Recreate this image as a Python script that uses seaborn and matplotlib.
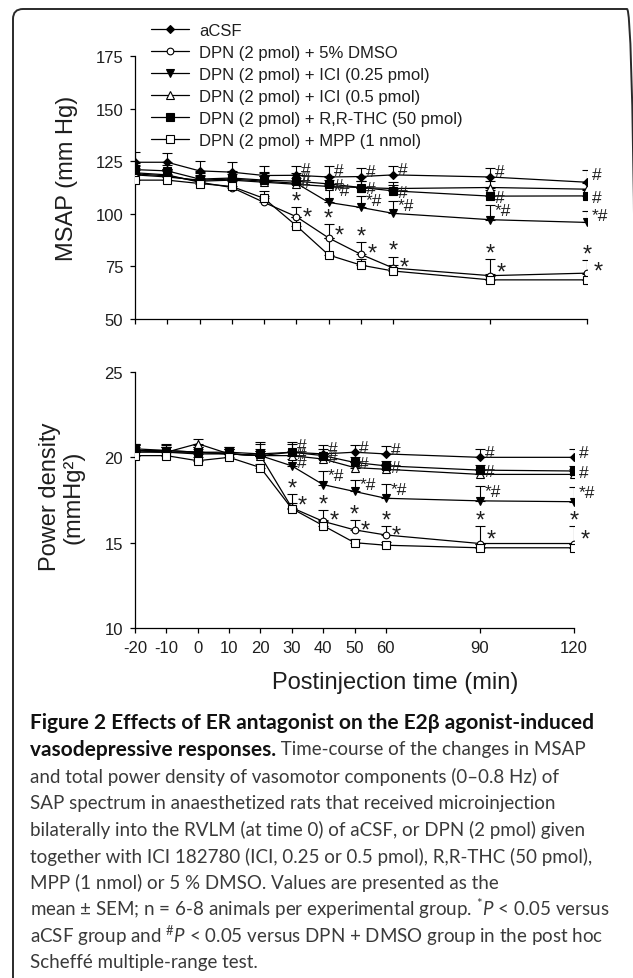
import numpy as np
import pandas as pd
import matplotlib
matplotlib.use('Agg')
import matplotlib.pyplot as plt
from matplotlib.patches import FancyBboxPatch
from matplotlib.transforms import IdentityTransform
import seaborn as sns

"""
0. Data read off the figure (means, upward SEM bars, significance marks).
"""
time_min = [-20, -10, 0, 10, 20, 30, 40, 50, 60, 90, 120]
xtick_labels = ['-20', '-10', '0', '10', '20', '30', '40', '50', '60', '90', '120']
msap_yticks = [50, 75, 100, 125, 150, 175]
pd_yticks = [10, 15, 20, 25]

groups = ['aCSF',
          'DPN (2 pmol) + 5% DMSO',
          'DPN (2 pmol) + ICI (0.25 pmol)',
          'DPN (2 pmol) + ICI (0.5 pmol)',
          'DPN (2 pmol) + R,R-THC (50 pmol)',
          'DPN (2 pmol) + MPP (1 nmol)']

# MSAP (mm Hg)
msap_acsf = [124.5, 124.5, 120.4, 119.8, 118.2, 118.3, 117.5, 117.7, 118.5, 117.5, 115.0]
msap_dmso = [119.5, 118.5, 115.0, 112.5, 105.4, 98.6, 88.5, 80.7, 74.2, 70.6, 71.8]
msap_ici25 = [118.5, 117.5, 116.0, 116.5, 115.5, 114.5, 105.4, 103.0, 100.2, 97.2, 95.9]
msap_ici05 = [119.0, 118.0, 115.5, 116.0, 115.0, 114.0, 113.0, 112.5, 112.0, 112.5, 111.7]
msap_rthc = [121.0, 120.4, 116.5, 117.0, 116.0, 115.5, 114.2, 112.5, 110.9, 108.4, 108.5]
msap_mpp = [116.0, 116.0, 114.4, 113.0, 107.3, 94.3, 80.4, 75.6, 72.8, 68.6, 68.6]

msap_acsf_err = [5.0, 4.2, 4.7, 5.0, 4.6, 4.6, 5.0, 4.3, 4.3, 4.3, 6.0]
msap_dmso_err = [3.5, 3.0, 3.0, 3.0, 3.0, 4.5, 6.5, 5.8, 5.5, 7.8, 6.2]
msap_ici25_err = [4.0, 4.0, 4.0, 4.0, 4.0, 4.0, 8.5, 5.5, 6.0, 6.8, 5.5]
msap_ici05_err = [3.0, 3.0, 3.0, 3.0, 3.0, 3.0, 3.0, 3.0, 3.0, 3.0, 3.0]
msap_rthc_err = [3.0, 3.0, 3.0, 3.0, 4.0, 4.0, 4.0, 3.0, 3.0, 3.0, 3.0]
msap_mpp_err = [3.0, 3.0, 2.5, 3.0, 3.5, 4.0, 8.0, 3.0, 3.0, 3.0, 3.0]

# power density (mmHg^2)
pd_acsf = [20.4, 20.4, 20.3, 20.2, 20.1, 20.3, 20.2, 20.3, 20.2, 20.0, 20.0]
pd_dmso = [20.3, 20.3, 20.3, 20.2, 20.1, 17.05, 16.25, 15.75, 15.45, 14.95, 14.95]
pd_ici25 = [20.4, 20.3, 20.2, 20.2, 20.1, 19.5, 18.4, 18.0, 17.6, 17.45, 17.4]
pd_ici05 = [20.4, 20.3, 20.8, 20.2, 20.1, 20.1, 19.9, 19.4, 19.3, 19.0, 19.0]
pd_rthc = [20.5, 20.4, 20.3, 20.3, 20.2, 20.3, 20.1, 19.7, 19.5, 19.25, 19.2]
pd_mpp = [20.1, 20.1, 19.8, 20.0, 19.4, 17.0, 16.0, 15.0, 14.85, 14.7, 14.7]

pd_acsf_err = [0.4, 0.4, 0.4, 0.4, 0.8, 0.6, 0.5, 0.45, 0.45, 0.47, 0.47]
pd_dmso_err = [0.3, 0.3, 0.3, 0.3, 0.4, 0.8, 0.65, 0.55, 0.5, 1.0, 1.0]
pd_ici25_err = [0.3, 0.3, 0.3, 0.3, 0.3, 0.4, 0.8, 0.65, 0.82, 0.85, 0.85]
pd_ici05_err = [0.3, 0.3, 0.25, 0.3, 0.3, 0.3, 0.3, 0.3, 0.3, 0.3, 0.3]
pd_rthc_err = [0.3, 0.3, 0.3, 0.3, 0.6, 0.5, 0.4, 0.3, 0.3, 0.3, 0.3]
pd_mpp_err = [0.2, 0.2, 0.2, 0.2, 0.2, 0.3, 0.3, 0.2, 0.2, 0.2, 0.2]

# significance marks (same in both panels)
sig_acsf = ['', '', '', '', '', '#', '#', '#', '#', '#', '#']
sig_dmso = ['', '', '', '', '', '*', '*', '*', '*', '*', '*']
sig_ici25 = ['', '', '', '', '', '#', '*#', '*#', '*#', '*#', '*#']
sig_ici05 = ['', '', '', '', '', '', '', '', '', '', '']
sig_rthc = ['', '', '', '', '', '#', '#', '#', '#', '#', '#']
sig_mpp = ['', '', '', '', '', '*', '*', '*', '*', '*', '*']

caption_lines = [
    'and total power density of vasomotor components (0\u20130.8 Hz) of',
    'SAP spectrum in anaesthetized rats that received microinjection',
    'bilaterally into the RVLM (at time 0) of aCSF, or DPN (2 pmol) given',
    'together with ICI 182780 (ICI, 0.25 or 0.5 pmol), R,R-THC (50 pmol),',
    'MPP (1 nmol) or 5 % DMSO. Values are presented as the',
    r'mean ± SEM; n = 6-8 animals per experimental group. $^{*}\mathit{P}$ < 0.05 versus',
    r'aCSF group and $^{\#}\mathit{P}$ < 0.05 versus DPN + DMSO group in the post hoc',
    'Scheff\u00e9 multiple-range test.',
]

"""
1. Long table for seaborn.
"""
msap_vals = [msap_acsf, msap_dmso, msap_ici25, msap_ici05, msap_rthc, msap_mpp]
msap_errs = [msap_acsf_err, msap_dmso_err, msap_ici25_err, msap_ici05_err, msap_rthc_err, msap_mpp_err]
pd_vals = [pd_acsf, pd_dmso, pd_ici25, pd_ici05, pd_rthc, pd_mpp]
pd_errs = [pd_acsf_err, pd_dmso_err, pd_ici25_err, pd_ici05_err, pd_rthc_err, pd_mpp_err]
sigs = [sig_acsf, sig_dmso, sig_ici25, sig_ici05, sig_rthc, sig_mpp]

rows = []
for g, mv, me, pv, pe, s in zip(groups, msap_vals, msap_errs, pd_vals, pd_errs, sigs):
    for i, t in enumerate(time_min):
        rows.append(dict(group=g, time=t, msap=mv[i], msap_err=me[i],
                         power=pv[i], power_err=pe[i], sig=s[i]))
df = pd.DataFrame(rows)

"""
2. Style.
"""
sns.set_style('ticks')
plt.rcParams['font.family'] = ['Liberation Sans', 'DejaVu Sans']
plt.rcParams['mathtext.fontset'] = 'custom'
plt.rcParams['mathtext.rm'] = 'Lato'
plt.rcParams['mathtext.it'] = 'Lato:italic'
plt.rcParams['mathtext.bf'] = 'Lato:bold'

ink = '#1e1e1e'
marker_style = {
    groups[0]: dict(marker='D', markerfacecolor='black', markersize=4.2),
    groups[1]: dict(marker='o', markerfacecolor='white', markersize=4.8),
    groups[2]: dict(marker='v', markerfacecolor='black', markersize=5.5),
    groups[3]: dict(marker='^', markerfacecolor='white', markersize=5.5),
    groups[4]: dict(marker='s', markerfacecolor='black', markersize=5.2),
    groups[5]: dict(marker='s', markerfacecolor='white', markersize=5.2),
}
# vertical lift (fraction of SEM) for marks written right of a point
mark_lift = {groups[0]: 0.75, groups[2]: 0.75, groups[4]: 0.0}

W, H = 633, 979
fig = plt.figure(figsize=(W / 100, H / 100), dpi=100)
fig.patch.set_facecolor('white')

ax1 = fig.add_axes([135 / W, 1 - 320 / H, 452 / W, 263 / H])
ax2 = fig.add_axes([135 / W, 1 - 629 / H, 439 / W, 256 / H])


def draw_panel(ax, col, ecol):
    for g in groups:
        d = df[df.group == g]
        ax.errorbar(d['time'], d[col], yerr=[np.zeros(len(d)), d[ecol]], fmt='none',
                    ecolor='black', elinewidth=0.8, capsize=3.4, capthick=0.8, zorder=2)
        sns.lineplot(data=d, x='time', y=col, ax=ax, color='black', linewidth=0.9,
                     markeredgecolor='black', markeredgewidth=0.8, errorbar=None,
                     legend=False, label=g, zorder=3, **marker_style[g])
    # significance marks
    dm = df[df.group == groups[1]].set_index('time')
    for g in groups:
        d = df[(df.group == g) & (df.sig != '')]
        for _, r in d.iterrows():
            if g == groups[1]:
                ax.annotate(r.sig, (r.time, r[col] + r[ecol]), xytext=(0, 4),
                            textcoords='offset points', ha='center', va='center',
                            fontsize=17, color=ink)
            elif g == groups[5]:
                y = dm.loc[r.time, col] + 0.55 * dm.loc[r.time, ecol]
                ax.annotate(r.sig, (r.time, y), xytext=(4.5, -4),
                            textcoords='offset points', ha='left', va='center',
                            fontsize=17, color=ink)
            else:
                y = r[col] + mark_lift[g] * r[ecol]
                ax.annotate(r.sig, (r.time, y), xytext=(3.5, -1),
                            textcoords='offset points', ha='left', va='center',
                            fontsize=12.5, color=ink)
    ax.set_xlim(-20, 120)
    ax.set_xticks(time_min)
    ax.set_xlabel('')
    ax.set_ylabel('')
    sns.despine(ax=ax)
    for sp in ax.spines.values():
        sp.set_linewidth(0.9)
        sp.set_color('black')
    ax.tick_params(direction='out', length=3.5, width=0.9, colors='black',
                   labelcolor=ink, labelsize=12, pad=5)


draw_panel(ax1, 'msap', 'msap_err')
ax1.set_ylim(50, 175)
ax1.set_yticks(msap_yticks)
ax1.tick_params(axis='x', labelbottom=False)

draw_panel(ax2, 'power', 'power_err')
ax2.set_ylim(10, 25)
ax2.set_yticks(pd_yticks)
ax2.set_xticklabels(xtick_labels)

# legend
handles, labels = ax1.get_legend_handles_labels()
fig.legend(handles, labels, loc='upper left', bbox_to_anchor=(151 / W, 1 - 24 / H),
           frameon=False, fontsize=12, handlelength=2.3, handletextpad=0.6,
           labelspacing=0.42, borderpad=0, borderaxespad=0, numpoints=1,
           labelcolor=ink)

# axis titles
fig.text(67 / W, 1 - 178 / H, 'MSAP (mm Hg)', rotation=90, ha='center', va='center',
         fontsize=17, color=ink)
fig.text(62 / W, 1 - 497 / H, 'Power density\n(mmHg\u00b2)', rotation=90, ha='center',
         va='center', fontsize=17, color=ink, linespacing=1.1, multialignment='center')
fig.text(395 / W, 1 - 683 / H, 'Postinjection time (min)', ha='center', va='center',
         fontsize=17, color=ink)

# frame around figure + caption
frame = FancyBboxPatch((13, -30), 624, 979 - 10 + 30,
                       boxstyle='round,pad=0,rounding_size=10', transform=IdentityTransform(),
                       facecolor='none', edgecolor='#2a2a2a', linewidth=1.4)
fig.add_artist(frame)

cap_kw = dict(family=['Lato', 'DejaVu Sans'], va='center', ha='left')
line_y = [723.3, 750, 776.7, 803.3, 830, 856.5, 882.8, 909.3, 936, 962.7]
fig.text(30 / W, 1 - line_y[0] / H, 'Figure 2 Effects of ER antagonist on the E2\u03b2 agonist-induced',
         weight='bold', color='#111111', fontsize=15, **cap_kw)
b = fig.text(30 / W, 1 - line_y[1] / H, 'vasodepressive responses.', weight='bold',
             color='#111111', fontsize=15, **cap_kw)
ax1.annotate(' Time-course of the changes in MSAP', xy=(1, 0.5), xycoords=b,
             color='#3a3a3a', annotation_clip=False, fontsize=13.5, **cap_kw)
for yy, line in zip(line_y[2:], caption_lines):
    fig.text(30 / W, 1 - yy / H, line, color='#3a3a3a', fontsize=13.5, **cap_kw)

fig.savefig('out.png', dpi=100)
